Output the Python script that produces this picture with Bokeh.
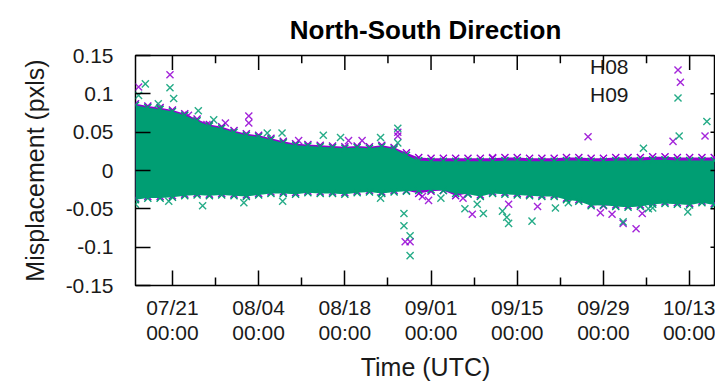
import numpy as np
import pandas as pd
from bokeh.plotting import figure
from bokeh.models import (FixedTicker, DatetimeTickFormatter, Range1d, Legend, LegendItem, Label)
from bokeh.embed import file_html
from bokeh.resources import INLINE
from bokeh.core.properties import value

# ---------------- data ----------------
START = "2022-07-15 00:00"          # day 0 of the series (UTC)

# envelope of the dense cloud, sampled every 2 days
env_days = [0, 2, 4, 6, 8, 10, 12, 14, 16, 18, 20, 22, 24, 26, 28, 30,
            32, 34, 36, 38, 40, 42, 44, 46, 48, 50, 52, 54, 56, 58, 60, 62,
            64, 66, 68, 70, 72, 74, 76, 78, 80, 82, 84, 86, 88, 90, 92, 94]
h09_up = [0.085, 0.082, 0.080, 0.077, 0.072, 0.065, 0.058, 0.055, 0.050, 0.046, 0.044, 0.040,
          0.036, 0.033, 0.032, 0.031, 0.030, 0.029, 0.030, 0.029, 0.031, 0.028, 0.020, 0.013,
          0.012, 0.012, 0.012, 0.012, 0.012, 0.012, 0.013, 0.013, 0.012, 0.012, 0.012, 0.013,
          0.013, 0.012, 0.012, 0.013, 0.013, 0.013, 0.014, 0.014, 0.013, 0.013, 0.013, 0.013]
h09_low = [-0.038, -0.036, -0.036, -0.035, -0.033, -0.032, -0.033, -0.032, -0.033, -0.034, -0.032, -0.030,
           -0.030, -0.031, -0.029, -0.030, -0.030, -0.031, -0.029, -0.028, -0.030, -0.028, -0.027, -0.026,
           -0.025, -0.026, -0.030, -0.031, -0.034, -0.030, -0.031, -0.032, -0.033, -0.034, -0.034, -0.038,
           -0.040, -0.046, -0.045, -0.047, -0.048, -0.047, -0.044, -0.043, -0.044, -0.045, -0.042, -0.045]
h08_up = [0.087, 0.084, 0.082, 0.079, 0.074, 0.067, 0.060, 0.057, 0.052, 0.048, 0.046, 0.042,
          0.038, 0.035, 0.034, 0.033, 0.032, 0.031, 0.032, 0.031, 0.033, 0.030, 0.023, 0.017,
          0.016, 0.016, 0.016, 0.016, 0.016, 0.016, 0.017, 0.017, 0.016, 0.016, 0.016, 0.017,
          0.017, 0.016, 0.016, 0.017, 0.017, 0.017, 0.018, 0.018, 0.017, 0.017, 0.017, 0.017]
h08_low = [-0.036, -0.034, -0.034, -0.033, -0.031, -0.030, -0.031, -0.030, -0.031, -0.032, -0.030, -0.028,
           -0.028, -0.029, -0.027, -0.028, -0.028, -0.029, -0.027, -0.026, -0.028, -0.026, -0.026, -0.030,
           -0.027, -0.026, -0.033, -0.030, -0.032, -0.028, -0.029, -0.030, -0.031, -0.032, -0.032, -0.036,
           -0.038, -0.044, -0.046, -0.045, -0.046, -0.045, -0.042, -0.041, -0.042, -0.043, -0.040, -0.043]

# isolated points outside the cloud
h08_days = [0.5, 5.6, 8.6, 11.6, 14.6, 18.4, 18.4, 26.5, 34.6, 36.8, 42.6, 42.6, 43.8, 44.6,
            46.6, 47.6, 53.2, 54.7, 58.0, 60.6, 65.3, 73.5, 75.5, 77.4, 79.2, 81.3, 82.3,
            87.3, 88.5, 92.5]
h08_vals = [0.109, 0.125, 0.072, 0.060, 0.062, 0.071, 0.062, 0.039, 0.039, 0.039, 0.045, 0.050, -0.093, -0.093,
            -0.034, -0.039, -0.036, -0.057, 0.017, -0.044, -0.047, 0.044, -0.055, -0.057, -0.069, -0.076, -0.056,
            0.038, 0.115, 0.045]
h09_days = [0.0, 0.5, 1.6, 3.7, 5.4, 5.6, 6.2, 10.2, 10.9, 12.7, 17.6, 21.4, 23.8, 23.9, 30.5,
            33.3, 39.8, 39.8, 42.6, 42.6, 43.6, 43.6, 44.6, 44.6, 49.6, 53.5, 55.5, 56.5, 59.6,
            60.3, 60.6, 64.4, 68.2, 70.3, 79.2, 82.5, 83.3, 84.0, 88.3, 89.7, 92.8]
h09_vals = [-0.044, 0.098, 0.113, 0.087, -0.040, 0.108, 0.094, 0.078, -0.046, 0.066, -0.042, 0.049, 0.049, -0.040, 0.046,
            0.043, 0.043, -0.036, 0.055, 0.036, -0.056, -0.072, -0.085, -0.111, -0.036, -0.050, -0.044, -0.056, -0.053,
            -0.061, -0.069, -0.066, -0.049, -0.042, -0.067, 0.029, -0.050, -0.049, 0.045, -0.054, 0.064]

x_major_days = [6, 20, 34, 48, 62, 76, 90]        # 07/21 ... 10/13 00:00
x_minor_days = [13, 27, 41, 55, 69, 83]
y_ticks = [-0.15, -0.1, -0.05, 0, 0.05, 0.1, 0.15]
y_tick_labels = ["-0.15", "-0.1", "-0.05", "0", "0.05", "0.1", "0.15"]
x_view_days = (0, 94.2)
y_view = (-0.15, 0.15)

# ---------------- helpers ----------------
BASE_MS = pd.Timestamp(START, tz="UTC").value / 1e6
DAY_MS = 86400000.0

def ms(days):
    return [BASE_MS + d * DAY_MS for d in days]

PURPLE = "#9400D3"
GREEN = "#009E73"
FONT = "Liberation Sans"
TXT = "#1a1a1a"

W, H = 715, 383
BL, BR, BT, BB = 135, 0, 55, 92
FRAME_W, FRAME_H = W - BL - BR, H - BT - BB

p = figure(width=W, height=H, output_backend="svg", toolbar_location=None,
           x_axis_type="datetime",
           x_range=Range1d(*ms(x_view_days)), y_range=Range1d(*y_view),
           min_border_left=BL, min_border_right=BR, min_border_top=BT, min_border_bottom=BB)
p.xgrid.visible = False
p.ygrid.visible = False
p.outline_line_color = "black"
p.outline_line_width = 1.5
p.background_fill_color = "white"

p.title.text = "North-South Direction"
p.title.text_font = "Liberation Sans"
p.title.text_font_style = "bold"
p.title.text_font_size = "26px"
p.title.align = "center"
p.title.text_color = "#000000"
p.title.standoff = 22

MS_SIZE = 10
MS_LW = 1.4

# H08 (drawn first)
ex = ms(env_days)
p.varea(x=ex, y1=h08_low, y2=h08_up, fill_color=PURPLE)
p.scatter(x=ex, y=h08_up, marker="x", size=MS_SIZE, line_color=PURPLE, line_width=MS_LW)
p.scatter(x=ex, y=h08_low, marker="x", size=MS_SIZE, line_color=PURPLE, line_width=MS_LW)
r08 = p.scatter(x=ms(h08_days), y=h08_vals, marker="x", size=MS_SIZE, line_color=PURPLE,
                line_width=MS_LW, line_alpha=0.85)

# H09
p.varea(x=ex, y1=h09_low, y2=h09_up, fill_color=GREEN)
p.scatter(x=ex, y=h09_up, marker="x", size=MS_SIZE, line_color=GREEN, line_width=MS_LW)
p.scatter(x=ex, y=h09_low, marker="x", size=MS_SIZE, line_color=GREEN, line_width=MS_LW)
r09 = p.scatter(x=ms(h09_days), y=h09_vals, marker="x", size=MS_SIZE, line_color=GREEN,
                line_width=MS_LW, line_alpha=0.85)

# ---------------- axes ----------------
xt = FixedTicker(ticks=ms(x_major_days), minor_ticks=ms(x_minor_days))
yt = FixedTicker(ticks=y_ticks, minor_ticks=[])
fmt = "%m/%d\n%H:%M"
xfmt = DatetimeTickFormatter(microseconds=fmt, milliseconds=fmt, seconds=fmt, minsec=fmt,
                             minutes=fmt, hourmin=fmt, hours=fmt, days=fmt, months=fmt, years=fmt)

def style(ax):
    ax.axis_line_color = None
    ax.major_tick_line_color = "black"
    ax.major_tick_line_width = 1.5
    ax.minor_tick_line_color = "black"
    ax.minor_tick_line_width = 1.5
    ax.major_tick_in = 15
    ax.major_tick_out = 0
    ax.minor_tick_in = 8
    ax.minor_tick_out = 0
    ax.major_label_text_font = FONT
    ax.major_label_text_font_size = "21px"
    ax.major_label_text_color = TXT
    ax.axis_label_text_font = FONT
    ax.axis_label_text_font_style = "normal"
    ax.axis_label_text_font_size = "25px"
    ax.axis_label_text_color = TXT

bx = p.xaxis[0]
bx.ticker = xt
bx.formatter = xfmt
style(bx)
bx.major_label_text_line_height = 1.1
bx.major_label_standoff = 10
bx.axis_label = "Time (UTC)"
bx.axis_label_standoff = 6

ly = p.yaxis[0]
ly.ticker = yt
ly.major_label_overrides = {t: s for t, s in zip(y_ticks, y_tick_labels)}
style(ly)
ly.major_label_standoff = 22
ly.axis_label = "Misplacement (pxls)"
ly.axis_label_standoff = 14

# mirrored inward tick marks on the top and right edges, at the tick values
xa, xb = ms(x_view_days)
ya, yb = y_view
dx = (xb - xa) / FRAME_W      # data per pixel
dy = (yb - ya) / FRAME_H
MAJ, MIN, RIGHT = 15, 8, 5
xM, xm = ms(x_major_days), ms(x_minor_days)
tx0 = xM + xm
ty1 = [yb - MAJ * dy] * len(xM) + [yb - MIN * dy] * len(xm)
p.segment(x0=tx0, y0=[yb] * len(tx0), x1=tx0, y1=ty1, line_color="black", line_width=1.5)
p.segment(x0=[xb] * len(y_ticks), y0=y_ticks, x1=[xb - RIGHT * dx] * len(y_ticks), y1=y_ticks,
          line_color="black", line_width=1.5)

# ---------------- key (text left, sample right, gnuplot style) ----------------
leg = Legend(items=[LegendItem(label=value(""), renderers=[r08]),
                    LegendItem(label=value(""), renderers=[r09])],
             location=(530, 175), orientation="vertical",
             glyph_width=25, glyph_height=25, spacing=3, padding=0, margin=0,
             label_width=0, label_standoff=0,
             border_line_color=None, background_fill_alpha=0)
p.add_layout(leg)

for txt, yy in (("H08", 219), ("H09", 191.5)):
    p.add_layout(Label(x=493, y=yy, x_units="screen", y_units="screen", text=txt,
                       text_align="right", text_baseline="middle",
                       text_font=FONT, text_font_size="21px", text_color=TXT))

open("out.html", "w").write(file_html(p, INLINE))
